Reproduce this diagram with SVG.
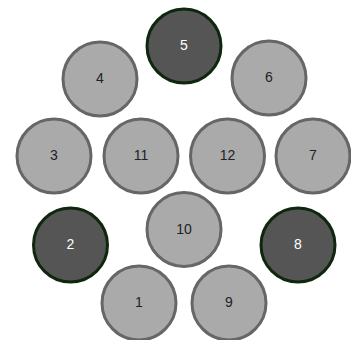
<svg xmlns="http://www.w3.org/2000/svg" width="351" height="340" viewBox="0 0 351 340">
<style>
.n circle{fill:#aaaaaa;stroke:#666666;stroke-width:3}
.n text{font-family:"Liberation Sans",Arial,sans-serif;font-size:14px;fill:#222222;text-anchor:middle;dominant-baseline:central}
.n.d circle{fill:#555555;stroke:#0f260f}
.n.d text{fill:#ffffff}
</style>
<rect width="351" height="340" fill="#ffffff"/>
<g id="connectors"></g>
<g id="node5" class="n d"><circle cx="184" cy="46" r="37"/><text x="184" y="45">5</text></g>
<g id="node4" class="n"><circle cx="100" cy="79" r="37"/><text x="100" y="78">4</text></g>
<g id="node6" class="n"><circle cx="269" cy="78" r="37"/><text x="269" y="77">6</text></g>
<g id="node3" class="n"><circle cx="54" cy="156" r="37"/><text x="54" y="155">3</text></g>
<g id="node11" class="n"><circle cx="141" cy="156" r="37"/><text x="141" y="155">11</text></g>
<g id="node12" class="n"><circle cx="227.5" cy="156" r="37"/><text x="227.5" y="155">12</text></g>
<g id="node7" class="n"><circle cx="313" cy="156" r="37"/><text x="313" y="155">7</text></g>
<g id="node2" class="n d"><circle cx="70.5" cy="245" r="37"/><text x="70.5" y="244">2</text></g>
<g id="node10" class="n"><circle cx="184" cy="229.5" r="37"/><text x="184" y="228.5">10</text></g>
<g id="node8" class="n d"><circle cx="298" cy="245" r="37"/><text x="298" y="244">8</text></g>
<g id="node1" class="n"><circle cx="139" cy="303" r="37"/><text x="139" y="302">1</text></g>
<g id="node9" class="n"><circle cx="229" cy="303" r="37"/><text x="229" y="302">9</text></g>
</svg>
